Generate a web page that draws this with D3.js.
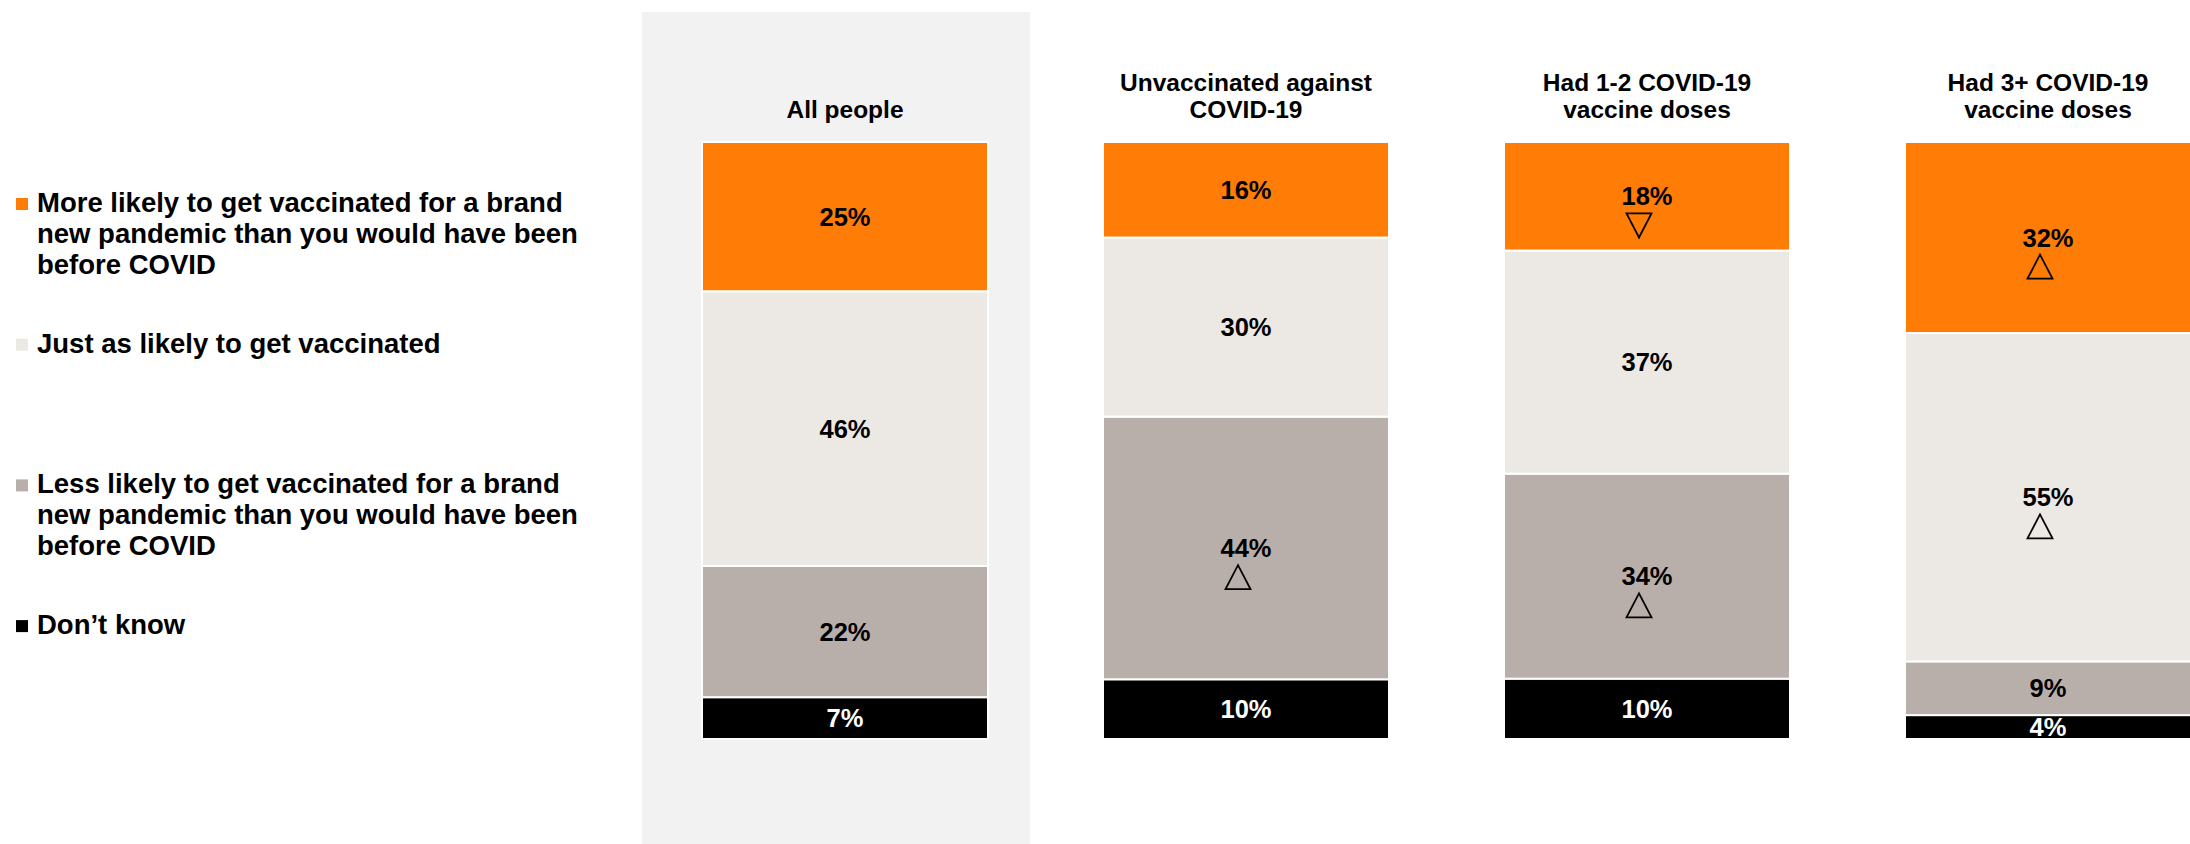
<!DOCTYPE html>
<html>
<head>
<meta charset="utf-8">
<script src="https://cdn.jsdelivr.net/npm/d3@7"></script>
<style>
  html, body { margin: 0; padding: 0; background: #ffffff; }
  svg { display: block; }
  text { font-family: "Liberation Sans", Arial, sans-serif; font-weight: bold; fill: #000; }
</style>
</head>
<body>
<svg id="chart" width="2190" height="844"></svg>
<script>
// Groups shown as columns
const categories = [
  "All people",
  "Unvaccinated against COVID-19",
  "Had 1-2 COVID-19 vaccine doses",
  "Had 3+ COVID-19 vaccine doses"
];

// Response options, top of the stack first
const seriesNames = [
  "More likely to get vaccinated for a brand new pandemic than you would have been before COVID",
  "Just as likely to get vaccinated",
  "Less likely to get vaccinated for a brand new pandemic than you would have been before COVID",
  "Don\u2019t know"
];

// Percentages per group
const moreLikely   = [25, 16, 18, 32];
const justAsLikely = [46, 30, 37, 55];
const lessLikely   = [22, 44, 34, 9];
const dontKnow     = [7, 10, 10, 4];

// Significance versus all people: "up", "down" or ""
const moreLikelySig   = ["", "", "down", "up"];
const justAsLikelySig = ["", "", "", "up"];
const lessLikelySig   = ["", "up", "up", ""];
const dontKnowSig     = ["", "", "", ""];

const seriesColors = ["#FF7D06", "#ECE9E5", "#B9AFAA", "#000000"];
const labelColors  = ["#000000", "#000000", "#000000", "#ffffff"];

// ---- assemble rows for d3.stack ----
const keys = ["more", "just", "less", "dk"];
const values = { more: moreLikely, just: justAsLikely, less: lessLikely, dk: dontKnow };
const sigs = { more: moreLikelySig, just: justAsLikelySig, less: lessLikelySig, dk: dontKnowSig };
const rows = categories.map((c, i) => {
  const r = { category: c, index: i };
  keys.forEach(k => { r[k] = values[k][i]; });
  return r;
});

// bottom-to-top stacking order, each column expanded to 100%
const stack = d3.stack()
  .keys(keys.slice().reverse())
  .offset(d3.stackOffsetExpand);
const stacked = stack(rows);

const svg = d3.select("#chart");
const W = 2190, H = 844;

const x = d3.scaleBand()
  .domain(categories)
  .range([702, 2191])
  .paddingInner(0.2868)
  .paddingOuter(0);

const y = d3.scaleLinear().domain([0, 1]).range([739, 142]);

// shaded panel behind the total column
svg.append("rect")
  .attr("x", x(categories[0]) - 60)
  .attr("y", 12)
  .attr("width", 388)
  .attr("height", H - 12)
  .attr("fill", "#F2F2F2");

// ---- stacked segments ----
const colorOf = k => seriesColors[keys.indexOf(k)];
const textColorOf = k => labelColors[keys.indexOf(k)];

const layers = svg.append("g").selectAll("g")
  .data(stacked)
  .join("g")
  .attr("fill", d => colorOf(d.key));

layers.selectAll("rect")
  .data(d => d.map(p => Object.assign(p, { key: d.key })))
  .join("rect")
  .attr("x", d => x(d.data.category))
  .attr("y", d => y(d[1]))
  .attr("width", x.bandwidth())
  .attr("height", d => y(d[0]) - y(d[1]))
  .attr("stroke", "#ffffff")
  .attr("stroke-width", 2);

// ---- value labels and significance triangles (kept inside the plot) ----
svg.append("clipPath").attr("id", "plotClip")
  .append("rect")
  .attr("x", 0).attr("y", 0)
  .attr("width", W).attr("height", y(0) - 1);

const labelG = svg.append("g").attr("clip-path", "url(#plotClip)");
const labelSize = 25.5;

stacked.forEach(layer => {
  layer.forEach(p => {
    const cx = x(p.data.category) + x.bandwidth() / 2;
    const cy = (y(p[0]) + y(p[1])) / 2;
    const baseline = cy + labelSize * 0.36;
    labelG.append("text")
      .attr("x", cx)
      .attr("y", baseline)
      .attr("text-anchor", "middle")
      .attr("font-size", labelSize)
      .style("fill", textColorOf(layer.key))
      .text(p.data[layer.key] + "%");

    const sig = sigs[layer.key][p.data.index];
    if (sig) {
      const tw = 25, th = 24;
      const tx = cx - 8, ty = baseline + 8;
      const path = sig === "up"
        ? `M${tx - tw / 2},${ty + th}L${tx},${ty}L${tx + tw / 2},${ty + th}Z`
        : `M${tx - tw / 2},${ty}L${tx},${ty + th}L${tx + tw / 2},${ty}Z`;
      labelG.append("path")
        .attr("d", path)
        .attr("fill", "none")
        .attr("stroke", "#000")
        .attr("stroke-width", 1.8)
        .attr("stroke-linejoin", "miter");
    }
  });
});

// ---- word wrapping helper ----
function wrapLines(text, size, maxWidth) {
  const probe = svg.append("text").attr("font-size", size).attr("visibility", "hidden");
  const words = text.split(" ");
  const lines = [];
  let line = [];
  words.forEach(w => {
    const trial = line.concat(w).join(" ");
    probe.text(trial);
    if (line.length && probe.node().getComputedTextLength() > maxWidth) {
      lines.push(line.join(" "));
      line = [w];
    } else {
      line.push(w);
    }
  });
  if (line.length) lines.push(line.join(" "));
  probe.remove();
  return lines;
}

// ---- column titles, bottom-aligned above the bars ----
const titleSize = 24.5, titleLead = 26.6, titleBase = 118;
categories.forEach(c => {
  const lines = wrapLines(c, titleSize, 290);
  const t = svg.append("text")
    .attr("text-anchor", "middle")
    .attr("font-size", titleSize);
  lines.forEach((ln, j) => {
    t.append("tspan")
      .attr("x", x(c) + x.bandwidth() / 2)
      .attr("y", titleBase - (lines.length - 1 - j) * titleLead)
      .text(ln);
  });
});

// ---- legend ----
const legendSize = 27.5, legendLead = 31, legendTop = 212, legendStep = 140.7;
seriesNames.forEach((name, i) => {
  const base = legendTop + i * legendStep;
  svg.append("rect")
    .attr("x", 16)
    .attr("y", base - 14)
    .attr("width", 12)
    .attr("height", 12)
    .attr("fill", seriesColors[i]);
  const lines = wrapLines(name, legendSize, 565);
  const t = svg.append("text").attr("font-size", legendSize);
  lines.forEach((ln, j) => {
    t.append("tspan")
      .attr("x", 37)
      .attr("y", base + j * legendLead)
      .text(ln);
  });
});
</script>
</body>
</html>
